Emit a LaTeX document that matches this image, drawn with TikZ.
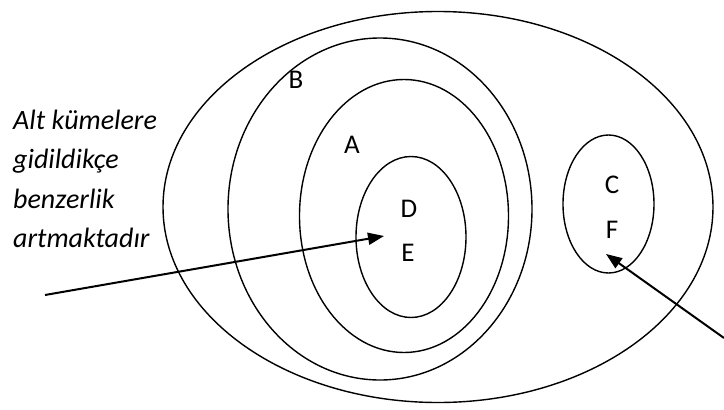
\documentclass[tikz,border=0pt]{standalone}
\usepackage{fontspec}
\setmainfont{Carlito}
\usetikzlibrary{shapes.geometric,arrows.meta}
\begin{document}
\begin{tikzpicture}[x=1pt,y=-1pt,
  setring/.style={draw,ellipse,line width=1.4pt,inner sep=0pt},
  lbl/.style={font=\fontsize{27}{32}\selectfont},
  note/.style={font=\fontsize{28}{32}\selectfont\itshape,anchor=base west,inner sep=0pt},
  pointer/.style={line width=2pt,-{Triangle[length=16pt,width=12pt]}}]
\useasboundingbox (0,0) rectangle (724,410);
\node[setring,minimum width=550pt,minimum height=391pt] (outer) at (438,207) {};
\node[setring,minimum width=304pt,minimum height=342pt] (setB) at (380,209) {};
\node[setring,minimum width=209pt,minimum height=273pt] (setA) at (404,216) {};
\node[setring,minimum width=110pt,minimum height=161pt] (setDE) at (411,237) {};
\node[setring,minimum width=91pt,minimum height=138pt] (setCF) at (608.5,204) {};
\node[lbl] (B) at (296,80) {B};
\node[lbl] (A) at (352,145) {A};
\node[lbl] (D) at (409,209) {D};
\node[lbl] (E) at (408,253) {E};
\node[lbl] (C) at (612,185) {C};
\node[lbl] (F) at (612,230) {F};
\node[note] (n1) at (13,129) {Alt kümelere};
\node[note] (n2) at (13,168) {gidildikçe};
\node[note] (n3) at (13,208) {benzerlik};
\node[note] (n4) at (13,247) {artmaktadır};
\coordinate (t1) at (45,295);
\coordinate (h1) at (384,236);
\coordinate (t2) at (724,338);
\coordinate (h2) at (606,254);
\draw[pointer] (t1) -- (h1);
\draw[pointer] (t2) -- (h2);
\end{tikzpicture}
\end{document}
